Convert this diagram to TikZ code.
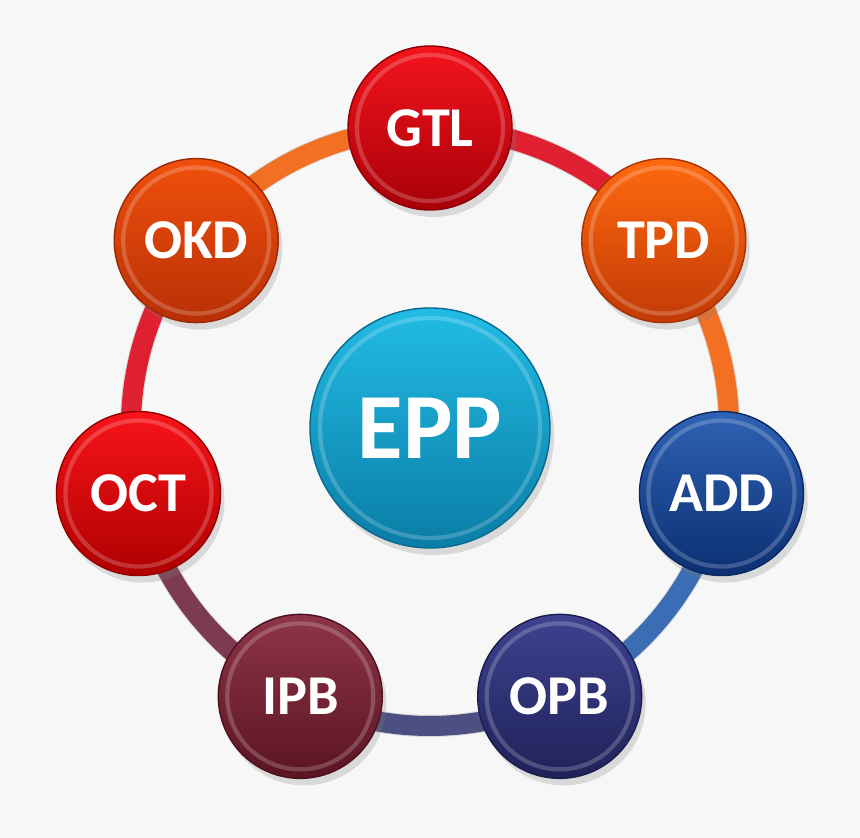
\documentclass[tikz,border=0pt]{standalone}
\usepackage{fontspec}
\setmainfont{Carlito}
\usetikzlibrary{shadows,backgrounds}
\definecolor{PageGray}{HTML}{F7F7F7}
\definecolor{GtlTop}{HTML}{F4141C}
\definecolor{GtlBot}{HTML}{A80008}
\definecolor{TpdTop}{HTML}{FF6A10}
\definecolor{TpdBot}{HTML}{C23A05}
\definecolor{AddTop}{HTML}{2F62B4}
\definecolor{AddBot}{HTML}{0B2F72}
\definecolor{OpbTop}{HTML}{3E4290}
\definecolor{OpbBot}{HTML}{1F2258}
\definecolor{IpbTop}{HTML}{8E3548}
\definecolor{IpbBot}{HTML}{5A1422}
\definecolor{OctTop}{HTML}{F8141A}
\definecolor{OctBot}{HTML}{AE0000}
\definecolor{OkdTop}{HTML}{F0500C}
\definecolor{OkdBot}{HTML}{B83006}
\definecolor{EppTop}{HTML}{22BCE4}
\definecolor{EppBot}{HTML}{0A7DA6}
\definecolor{RingRed}{HTML}{DF2030}
\definecolor{RingOrange}{HTML}{F36F21}
\definecolor{RingBlue}{HTML}{3A6DB3}
\definecolor{RingSlate}{HTML}{4B4F82}
\definecolor{RingMauve}{HTML}{7D3B52}

\begin{document}
\begin{tikzpicture}[
  rim/.style={path picture={\draw[white,opacity=0.2,line width=1.2pt]
      (path picture bounding box.center) circle (#1);}},
  ball/.style 2 args={circle,inner sep=0pt,minimum size=1.64cm,
    draw=#2!85!black,line width=0.4pt,top color=#1,bottom color=#2,
    text=white,font=\bfseries\fontsize{16}{16}\selectfont,
    drop shadow={shadow xshift=0.04cm,shadow yshift=-0.07cm,opacity=0.25},
    rim=0.73cm},
  band/.style={line width=0.2cm,draw=#1},
  bandshadow/.style={line width=0.22cm,draw=black,opacity=0.12,yshift=-0.06cm},
  arc/.style={bend left=25.71,looseness=0.9}
]
  \useasboundingbox (-4.3,-4.11) rectangle (4.3,4.27);

  % ring of nodes
  \node[ball={GtlTop}{GtlBot}] (gtl) at (90:2.99) {GTL};
  \node[ball={TpdTop}{TpdBot}] (tpd) at (38.57:2.99) {TPD};
  \node[ball={AddTop}{AddBot}] (add) at (-12.86:2.99) {ADD};
  \node[ball={OpbTop}{OpbBot}] (opb) at (-64.29:2.99) {OPB};
  \node[ball={IpbTop}{IpbBot}] (ipb) at (-115.71:2.99) {IPB};
  \node[ball={OctTop}{OctBot}] (oct) at (-167.14:2.99) {OCT};
  \node[ball={OkdTop}{OkdBot}] (okd) at (141.43:2.99) {OKD};

  % centre
  \node[ball={EppTop}{EppBot},minimum size=2.4cm,rim=1.1cm,
    font=\bfseries\fontsize{26.5}{26.5}\selectfont] (epp) at (0,-0.01) {EPP};

  \begin{pgfonlayer}{background}
    \fill[PageGray] (-4.3,-4.11) rectangle (4.3,4.27);
    \draw[bandshadow] (gtl.center) to[arc] (tpd.center) to[arc] (add.center)
      to[arc] (opb.center) to[arc] (ipb.center) to[arc] (oct.center)
      to[arc] (okd.center) to[arc] (gtl.center);
    \draw[band=RingRed] (gtl.center) to[arc] (tpd.center);
    \draw[band=RingOrange] (tpd.center) to[arc] (add.center);
    \draw[band=RingBlue] (add.center) to[arc] (opb.center);
    \draw[band=RingSlate] (opb.center) to[arc] (ipb.center);
    \draw[band=RingMauve] (ipb.center) to[arc] (oct.center);
    \draw[band=RingRed] (oct.center) to[arc] (okd.center);
    \draw[band=RingOrange] (okd.center) to[arc] (gtl.center);
  \end{pgfonlayer}
\end{tikzpicture}
\end{document}
